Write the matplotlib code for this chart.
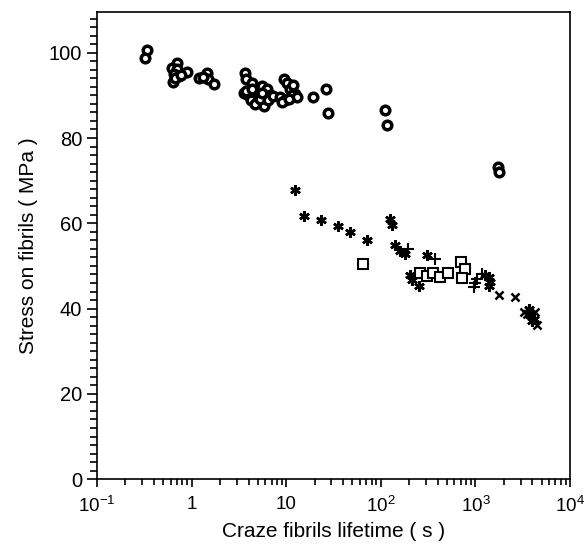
import numpy as np
import matplotlib
matplotlib.use("Agg")
import matplotlib.pyplot as plt
from matplotlib.ticker import FixedLocator, FixedFormatter, LogLocator, MultipleLocator, NullFormatter

plt.rcParams['font.family'] = ['Liberation Sans', 'DejaVu Sans']
plt.rcParams['mathtext.default'] = 'regular'

# upper branch (circles)
circ_t = [0.34, 0.325, 0.70, 0.62, 0.70, 0.89, 0.65, 0.73, 0.64, 0.67, 0.78,
          1.19, 1.45, 1.51, 1.71, 1.33,
          3.70, 3.78, 4.34, 3.55, 3.99, 4.5, 5.1, 5.8, 5.5, 6.3, 6.8, 6.0, 5.0, 4.2, 4.7, 5.3,
          3.8, 4.4, 5.6, 6.5, 7.2,
          8.7, 9.4, 10.2, 11.0, 11.9, 12.5, 9.8, 9.0, 11.6, 13.0, 10.6,
          19.1, 26.2, 27.7, 111.6, 115, 1722, 1790]
circ_s = [100.7, 98.7, 97.7, 96.4, 96.2, 95.5, 95.0, 94.5, 93.2, 94.0, 94.8,
          94.0, 95.2, 93.8, 92.7, 94.2,
          95.2, 93.8, 93.0, 90.6, 90.0, 89.1, 88.4, 87.6, 92.3, 91.5, 90.1, 89.5, 89.5, 88.8, 88.0, 89.1,
          91.0, 91.4, 90.6, 89.0, 89.8,
          89.5, 93.8, 93.0, 91.6, 92.4, 90.3, 88.8, 88.4, 90.0, 89.5, 89.2,
          89.7, 91.6, 85.9, 86.5, 83.1, 73.1, 72.1]

# lower branch
star_t = [12.5, 15.5, 23.3, 35.6, 47.2, 71.5, 126, 131, 140, 158, 182, 308,
          205, 214, 251, 1270, 1380, 1438, 1400, 3660, 3800, 4130, 3980]
star_s = [67.8, 61.8, 60.8, 59.4, 58.0, 56.0, 61.0, 59.7, 55.0, 53.6, 52.9, 52.5,
          47.8, 46.8, 45.4, 47.8, 47.4, 46.2, 45.2, 40.0, 38.4, 37.6, 37.2]

plus_t = [194, 377, 1175, 1040, 959, 1000]
plus_s = [54.0, 51.7, 48.2, 47.0, 45.0, 46.0]

sq_t = [64.9, 258, 308, 354, 426, 509, 710, 771, 721]
sq_s = [50.5, 48.4, 47.6, 48.4, 47.4, 48.4, 50.9, 49.2, 47.2]

x_t = [1790, 2640, 3290, 4270, 4480, 3500]
x_s = [43.1, 42.7, 39.2, 39.2, 36.1, 38.8]

xticks = [0.1, 1, 10, 100, 1000, 10000]
xlabels = ['$10^{-1}$', '1', '10', '$10^{2}$', '$10^{3}$', '$10^{4}$']

fig = plt.figure(figsize=(5.84, 5.54), dpi=100)
ax = fig.add_axes([0.166, 0.135, 0.81, 0.843])

ax.plot(circ_t, circ_s, 'o', ms=6.2, mfc='white', mec='black', mew=2.5, ls='none')
ax.plot(star_t, star_s, marker=(6, 2, 0), ms=7.5, color='black', mew=1.8, ls='none')
ax.plot(plus_t, plus_s, '+', ms=8, color='black', mew=1.5, ls='none')
ax.plot(sq_t, sq_s, 's', ms=6.5, mfc='white', mec='black', mew=1.5, ls='none')
ax.plot(x_t, x_s, 'x', ms=6, color='black', mew=1.8, ls='none')

ax.set_xscale('log')
ax.set_xlim(0.1, 10000)
ax.set_ylim(0, 109.5)

ax.xaxis.set_major_locator(FixedLocator(xticks))
ax.xaxis.set_major_formatter(FixedFormatter(xlabels))
ax.xaxis.set_minor_locator(LogLocator(base=10, subs=np.arange(2, 10), numticks=20))
ax.xaxis.set_minor_formatter(NullFormatter())
ax.yaxis.set_major_locator(MultipleLocator(20))
ax.yaxis.set_minor_locator(MultipleLocator(2))

ax.tick_params(which='both', direction='out', top=False, right=False, width=1.2)
ax.tick_params(axis='y', which='major', length=7, labelsize=14.5)
ax.tick_params(axis='y', which='minor', length=5)
ax.tick_params(axis='x', which='major', length=6, pad=6, labelsize=13.5)
ax.tick_params(axis='x', which='minor', length=4)

for s in ax.spines.values():
    s.set_linewidth(1.2)

ax.set_xlabel('Craze fibrils lifetime ( s )', fontsize=15)
ax.set_ylabel('Stress on fibrils ( MPa )', fontsize=15, labelpad=8)

fig.savefig('out.png', dpi=100)
